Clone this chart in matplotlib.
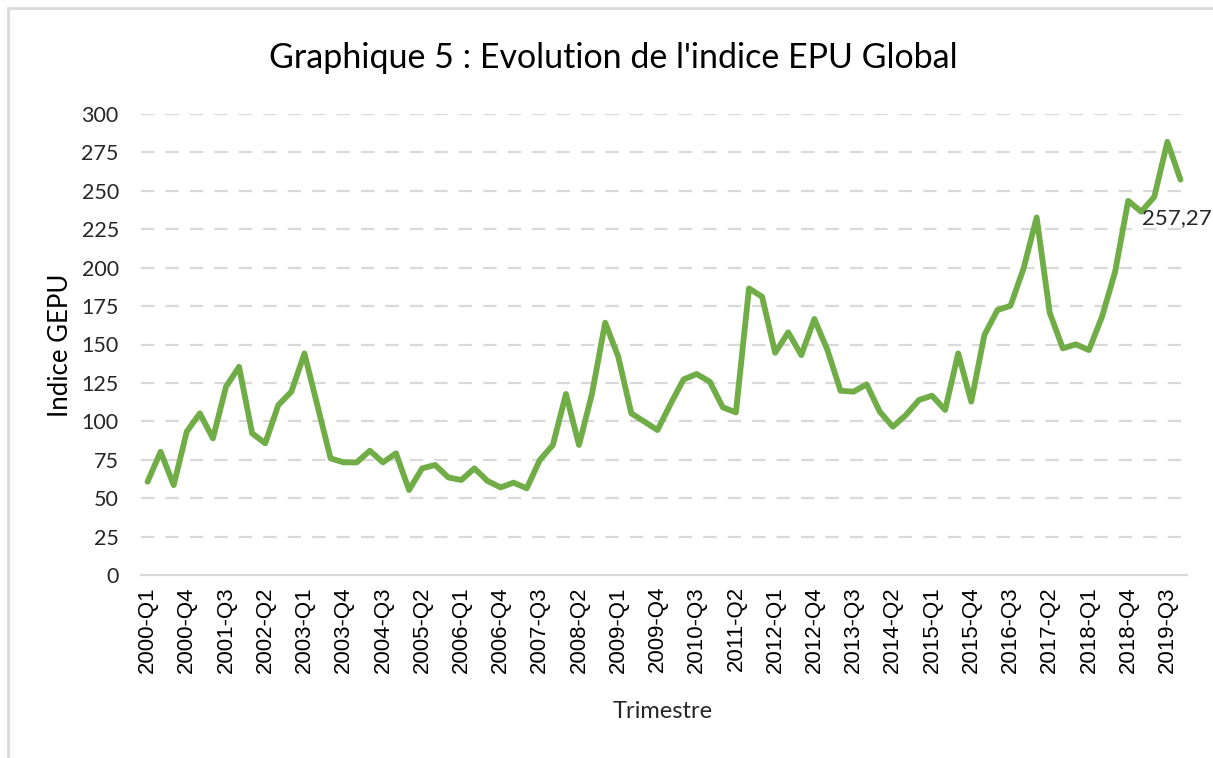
import numpy as np
import matplotlib
matplotlib.use("Agg")
import matplotlib.pyplot as plt
from matplotlib.patches import Rectangle

# trimestres 2000-Q1 .. 2019-Q4
years = list(range(2000, 2020))
quarters = ["%d-Q%d" % (y, q) for y in years for q in range(1, 5)]

gepu = [60.7, 80.2, 58.5, 93.3, 105.2, 88.9, 122.5, 135.5, 92.2, 85.7,
        110.6, 119.3, 144.2, 110.0, 75.9, 73.3, 73.3, 80.9, 73.3, 79.2,
        55.3, 69.4, 71.6, 63.5, 61.8, 69.4, 61.2, 57.0, 60.1, 56.4,
        74.8, 84.6, 117.8, 84.6, 118.2, 164.2, 142.1, 105.2, 99.8, 94.3,
        111.3, 127.3, 130.8, 125.8, 109.1, 105.8, 186.5, 181.1, 144.6, 157.9,
        143.1, 166.6, 146.4, 119.9, 119.3, 124.1, 106.3, 96.5, 104.1, 113.9,
        116.7, 107.4, 144.2, 112.8, 156.1, 172.4, 175.2, 199.5, 232.7, 170.7,
        147.5, 150.1, 146.4, 168.1, 197.3, 243.5, 236.4, 246.1, 281.9, 257.27]

yticks = list(range(0, 301, 25))

green = "#70AD47"
grid_col = "#d9d9d9"
txt = "#262626"

fig = plt.figure(figsize=(12.13, 7.58), dpi=100)
ax = fig.add_axes([141 / 1213, 1 - 575 / 758, (1187 - 141) / 1213, (575 - 114) / 758])

x = np.arange(len(gepu))
ax.plot(x, gepu, color=green, lw=4.2, solid_joinstyle="round", solid_capstyle="round", zorder=3)

ax.set_xlim(-0.5, len(gepu) - 0.5)
ax.set_ylim(0, 300)
ax.set_yticks(yticks)
ax.set_yticklabels([str(v) for v in yticks], family="Lato", fontsize=15.5, color=txt)
ax.set_xticks(x[::3])
ax.set_xticklabels(quarters[::3], rotation=90, family="Liberation Sans", fontsize=16, color="black")
ax.tick_params(length=0, pad=8)
ax.tick_params(axis="y", pad=16)

for v in yticks[1:]:
    ax.axhline(v, color=grid_col, lw=1.6, dashes=(6, 5), zorder=1)
for s in ["top", "right", "left"]:
    ax.spines[s].set_visible(False)
ax.spines["bottom"].set_color(grid_col)
ax.spines["bottom"].set_linewidth(1.6)

ax.annotate("257,27", (x[-1], gepu[-1]), xytext=(-28, -28), textcoords="offset points",
            ha="left", va="center", family="Lato", fontsize=16, color=txt, annotation_clip=False)

fig.text(613 / 1213, 1 - 58 / 758, "Graphique 5 : Evolution de l'indice EPU Global",
         ha="center", va="center", family="Lato", fontsize=24.5, color="black")
fig.text(60 / 1213, 1 - 345 / 758, "Indice GEPU", rotation=90, ha="center", va="center",
         family="Lato", fontsize=18.5, color="black")
fig.text(663 / 1213, 1 - 712 / 758, "Trimestre", ha="center", va="center",
         family="Lato", fontsize=17, color=txt)

# cadre du graphique
fig.patches.append(Rectangle((8 / 1213, -0.1), 1.2, 1 - 8 / 758 + 0.1, transform=fig.transFigure,
                             fill=False, edgecolor="#d9d9d9", lw=2))

fig.savefig("out.png", dpi=100)
